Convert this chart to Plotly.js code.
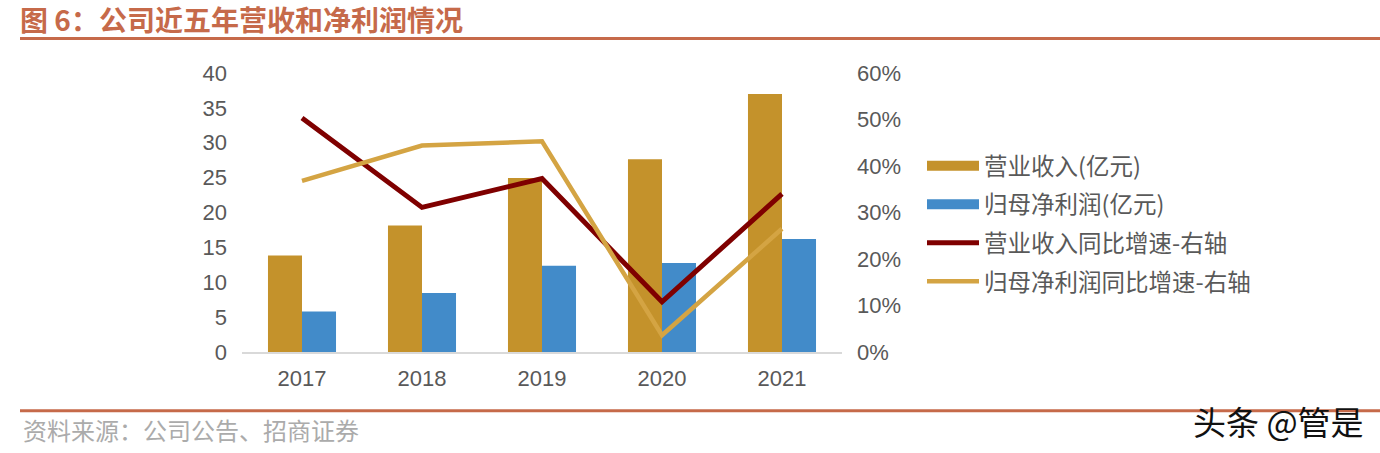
<!DOCTYPE html>
<html>
<head>
<meta charset="utf-8">
<script src="https://cdn.plot.ly/plotly-3.0.1.min.js"></script>
<style>html,body{margin:0;padding:0;background:#fff;}#chart{width:1380px;height:453px;}</style>
</head>
<body>
<div id="chart"></div>
<script>
const years = ['2017', '2018', '2019', '2020', '2021'];
const revenue = [13.85, 18.15, 24.95, 27.65, 37.0];
const netProfit = [5.82, 8.46, 12.37, 12.76, 16.2];
const revenueGrowth = [0.503, 0.311, 0.373, 0.108, 0.34];
const profitGrowth = [0.368, 0.444, 0.453, 0.036, 0.265];
const leftTicks = [0, 5, 10, 15, 20, 25, 30, 35, 40];
const rightTicks = [0, 0.1, 0.2, 0.3, 0.4, 0.5, 0.6];
const rightTickLabels = ['0%', '10%', '20%', '30%', '40%', '50%', '60%'];

const FONT = 'Liberation Sans, Arial, Noto Sans CJK SC, sans-serif';
const CJK = 'Noto Sans CJK SC, Liberation Sans, sans-serif';
const GOLD = '#C4922B', BLUE = '#428BC9';

const traces = [
  // legend swatches for the bar series (wide rectangles, as in the reference)
  {type: 'scatter', mode: 'lines', name: '营业收入(亿元)', x: [null], y: [null], line: {color: GOLD, width: 11}, legendgroup: 'a', hoverinfo: 'skip'},
  {type: 'scatter', mode: 'lines', name: '归母净利润(亿元)', x: [null], y: [null], line: {color: BLUE, width: 11}, legendgroup: 'b', hoverinfo: 'skip'},
  {type: 'bar', name: '营业收入(亿元)', x: years, y: revenue, marker: {color: GOLD}, legendgroup: 'a', showlegend: false, hoverinfo: 'y'},
  {type: 'bar', name: '归母净利润(亿元)', x: years, y: netProfit, marker: {color: BLUE}, legendgroup: 'b', showlegend: false, hoverinfo: 'y'},
  {type: 'scatter', mode: 'lines', name: '营业收入同比增速-右轴', x: years, y: revenueGrowth, yaxis: 'y2',
   line: {color: '#7F0000', width: 5}, legendgroup: 'c'},
  {type: 'scatter', mode: 'lines', name: '归母净利润同比增速-右轴', x: years, y: profitGrowth, yaxis: 'y2',
   line: {color: '#D4A443', width: 4.5}, legendgroup: 'd'}
];

const W = 600, H = 279.3, L = 242, T = 73;
const px = x => (x - L) / W;
const py = y => (T + H - y) / H;

const layout = {
  width: 1380, height: 453,
  margin: {l: 242, r: 538, t: 73, b: 100.7},
  paper_bgcolor: '#fff', plot_bgcolor: '#fff',
  font: {family: FONT, color: '#595959', size: 22},
  title: {text: '图 6：公司近五年营收和净利润情况', xref: 'container', yref: 'container', x: 20/1380, xanchor: 'left', y: 1 - 21/453, yanchor: 'middle',
          font: {family: CJK, size: 28, color: '#C66A4A', weight: 'bold'}},
  barmode: 'group', bargap: 0.433, bargroupgap: 0,
  showlegend: true,
  legend: {x: px(922), y: py(144), xanchor: 'left', yanchor: 'top', traceorder: 'grouped', tracegroupgap: 5,
           font: {family: CJK, size: 23.5, color: '#595959'}, itemwidth: 52, bgcolor: 'rgba(0,0,0,0)'},
  xaxis: {type: 'category', showgrid: false, zeroline: false, showline: true, linecolor: '#D9D9D9', linewidth: 2,
          ticks: '', tickfont: {family: FONT, size: 22, color: '#595959'}, ticklabelstandoff: 6, fixedrange: true},
  yaxis: {range: [0, 40], tickvals: leftTicks, showgrid: false, zeroline: false, showline: false, ticks: '',
          tickfont: {family: FONT, size: 22, color: '#595959'}, ticklabelstandoff: 14, fixedrange: true},
  yaxis2: {range: [0, 0.6], overlaying: 'y', side: 'right', tickvals: rightTicks, ticktext: rightTickLabels,
           showgrid: false, zeroline: false, showline: false, ticks: '',
           tickfont: {family: FONT, size: 22, color: '#595959'}, ticklabelstandoff: 14, fixedrange: true},
  shapes: [
    {type: 'line', xref: 'paper', yref: 'paper', x0: px(20), x1: px(1380), y0: py(38.5), y1: py(38.5), line: {color: '#C66A4A', width: 3}},
    {type: 'line', xref: 'paper', yref: 'paper', x0: px(20), x1: px(1380), y0: py(411), y1: py(411), line: {color: '#C66A4A', width: 3}}
  ],
  annotations: [
    {text: '资料来源：公司公告、招商证券', xref: 'paper', yref: 'paper', x: px(21), y: py(430), xanchor: 'left', yanchor: 'middle',
     showarrow: false, font: {family: CJK, size: 24, color: '#ABABAB'}},
    {text: '头条 @管是', xref: 'paper', yref: 'paper', x: px(1366), y: py(421), xanchor: 'right', yanchor: 'middle',
     showarrow: false, font: {family: CJK, size: 33, color: '#111'}}
  ]
};

Plotly.newPlot('chart', traces, layout, {displayModeBar: false, staticPlot: true});
</script>
</body>
</html>
